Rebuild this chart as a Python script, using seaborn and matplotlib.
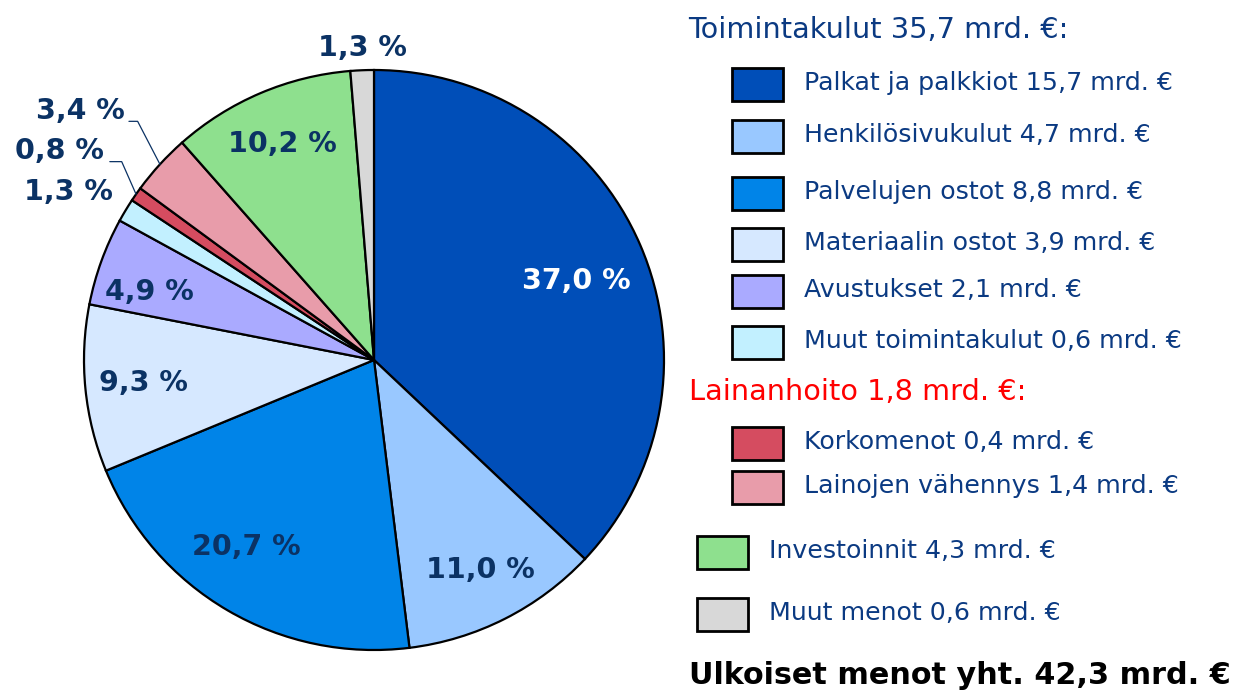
import numpy as np
import matplotlib
matplotlib.use("Agg")
import matplotlib.pyplot as plt
from matplotlib.patches import Rectangle
import seaborn as sns

# ---- data ----
categories = ["Palkat ja palkkiot", "Henkilösivukulut", "Palvelujen ostot",
              "Materiaalin ostot", "Avustukset", "Muut toimintakulut",
              "Korkomenot", "Lainojen vähennys", "Investoinnit", "Muut menot"]
amounts = [15.7, 4.7, 8.8, 3.9, 2.1, 0.6, 0.4, 1.4, 4.3, 0.6]
shares = [37.0, 11.0, 20.7, 9.3, 4.9, 1.3, 0.8, 3.4, 10.2, 1.3]
colors = ["#004EB8", "#99C8FF", "#0084E8", "#D6E8FF", "#AAAAFF",
          "#C2F0FF", "#D54C60", "#E89CAA", "#8EE08E", "#D8D8D8"]
group_titles = ["Toimintakulut 35,7 mrd. €:", "Lainanhoito 1,8 mrd. €:"]
total_title = "Ulkoiset menot yht. 42,3 mrd. €"

sns.set_theme(style="white")
plt.rcParams['font.family'] = ['DejaVu Sans']

W, H = 1247, 698
fig = plt.figure(figsize=(W / 100, H / 100), dpi=100)
fig.patch.set_facecolor("white")

# pie axes: center (374,360) px, radius 290 px
cx, cy, R = 374, 360, 290
half = 300
ax = fig.add_axes([(cx - half) / W, (H - cy - half) / H, 2 * half / W, 2 * half / H])
lim = half / R
wedges, _ = ax.pie(shares, colors=colors, startangle=90, counterclock=False,
                   wedgeprops=dict(edgecolor="black", linewidth=1.6))
ax.set_xlim(-lim, lim)
ax.set_ylim(-lim, lim)
ax.set_aspect("equal")
ax.axis("off")

navy = "#0B3264"
LFS = 20.5
fracs = np.array(shares) / np.sum(shares)
cum = np.cumsum(fracs) - fracs / 2
mid_angles = np.deg2rad(90 - cum * 360)

def fmt(v):
    return f"{v:.1f}".replace(".", ",") + " %"

# radial distance and small angular tweak (deg) for inside labels
inside = {0: (0.75, -2.0), 1: (0.81, 0.0), 2: (0.78, -4.0), 3: (0.80, 0.0),
          4: (0.81, 3.0), 8: (0.81, 0.0)}
for i, v in enumerate(shares):
    if i in inside:
        r, da = inside[i]
        a = mid_angles[i] + np.deg2rad(da)
        col = "white" if i == 0 else navy
        ax.text(r * np.cos(a), r * np.sin(a), fmt(v), ha="center", va="center",
                fontsize=LFS, fontweight="bold", color=col)

# outside labels
ax.text(-0.04, 1.075, fmt(shares[9]), ha="center", va="center",
        fontsize=LFS, fontweight="bold", color=navy)
ax.text(-0.90, 0.58, fmt(shares[5]), ha="right", va="center",
        fontsize=LFS, fontweight="bold", color=navy)
a = mid_angles[6]
ax.plot([-0.911, -0.87, np.cos(a)], [0.684, 0.684, np.sin(a)], color=navy, lw=0.9)
ax.text(-0.93, 0.72, fmt(shares[6]), ha="right", va="center",
        fontsize=LFS, fontweight="bold", color=navy)
a = mid_angles[7]
ax.plot([-0.845, -0.815, np.cos(a)], [0.823, 0.823, np.sin(a)], color=navy, lw=0.9)
ax.text(-0.86, 0.86, fmt(shares[7]), ha="right", va="center",
        fontsize=LFS, fontweight="bold", color=navy)

# ---- legend (manual) ----
lg = fig.add_axes([0, 0, 1, 1])
lg.set_xlim(0, W)
lg.set_ylim(H, 0)
lg.axis("off")
lg.patch.set_alpha(0)

txt_col = "#0B3A82"
lg.text(688, 30, group_titles[0], ha="left", va="center", fontsize=20.7, color=txt_col)
rows_y = [85, 137, 194, 245, 292, 343, 444, 488, 553, 615]
box_x = [732, 732, 732, 732, 732, 732, 732, 732, 697, 697]
for i in range(10):
    bx = box_x[i]
    lg.add_patch(Rectangle((bx, rows_y[i] - 17), 51, 33, facecolor=colors[i],
                           edgecolor="black", linewidth=2))
    label = f"{categories[i]} " + f"{amounts[i]:.1f}".replace(".", ",") + " mrd. €"
    lg.text(bx + 72, rows_y[i] - 2, label, ha="left", va="center",
            fontsize=18.2, color=txt_col)
lg.text(689, 392, group_titles[1], ha="left", va="center", fontsize=20.7, color="#FF0000")
lg.text(689, 675, total_title, ha="left", va="center", fontsize=21.8,
        fontweight="bold", color="black")

fig.savefig("out.png", dpi=100, facecolor="white")
